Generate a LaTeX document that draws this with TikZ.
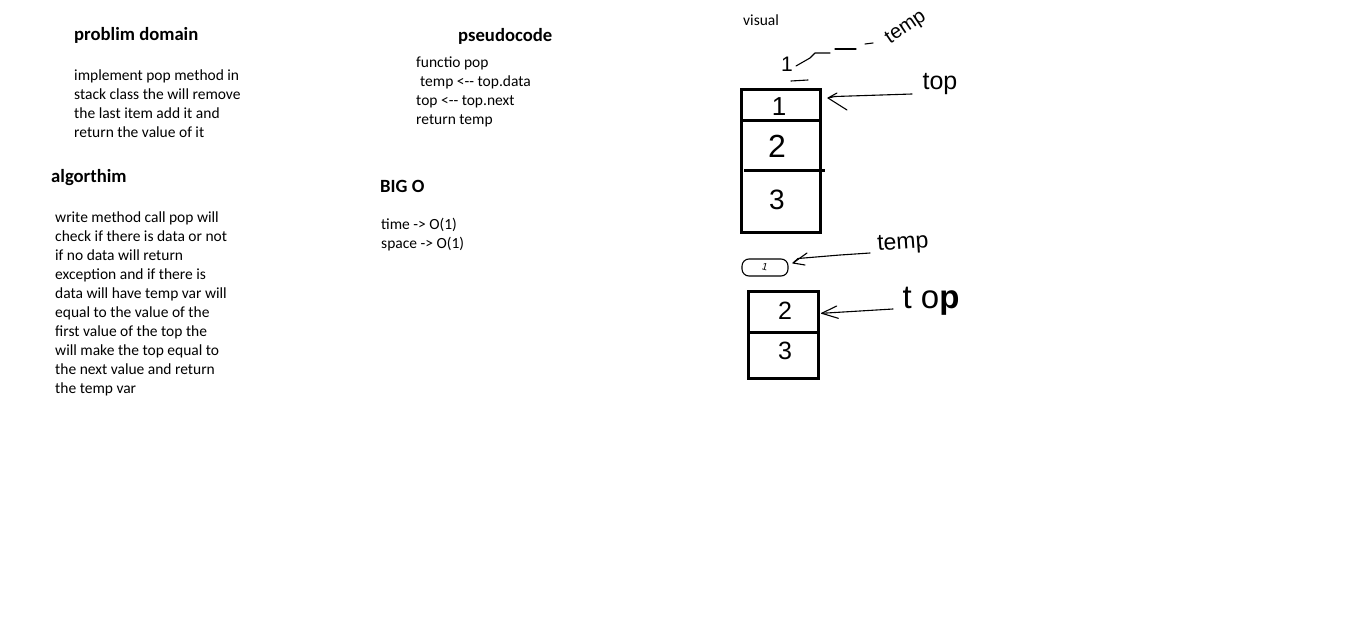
\documentclass[tikz,border=0pt]{standalone}
\usepackage{fontspec}
\setmainfont{Carlito}
\newfontfamily\handfont{Liberation Sans}
\begin{document}
\begin{tikzpicture}[x=1pt,y=-1pt,
  body/.style={anchor=north west, inner sep=0pt, align=left, font=\fontsize{15.5}{19}\selectfont},
  head/.style={anchor=base west, inner sep=0pt, font=\fontsize{18.67}{22}\selectfont\bfseries},
  stackbox/.style={line width=3pt},
  hand/.style={line width=1.1pt, line cap=round, line join=round},
  handtxt/.style={inner sep=0pt, font=\handfont\fontsize{#1}{#1}\selectfont},
  handtxt/.default=20
]
\useasboundingbox[fill=white] (0,0) rectangle (1359,618);

% ---- problem domain ----
\node[head] (pdhead) at (74,41) {problim domain};
\node[body] (pdbody) at (74,66.7) {\strut implement pop method in\\stack class the will remove\\the last item add it and\\return the value of it};

% ---- algorithm ----
\node[head] (alhead) at (51,182) {algorthim};
\node[body] (albody) at (55,209.2) {\strut write method call pop will\\check if there is data or not\\if no data will return\\exception and if there is\\data will have temp var will\\equal to the value of the\\first value of the top the\\will make the top equal to\\the next value and return\\the temp var};

% ---- pseudocode ----
\node[head] (pshead) at (458,42) {pseudocode};
\node[body] (psbody) at (416,53.7) {\strut functio pop\\\hspace*{4pt}temp <-{}- top.data\\top <-{}- top.next\\return temp};

% ---- big O ----
\node[head] (bohead) at (380,192) {BIG O};
\node[body] (bobody) at (381,215.7) {\strut time -> O(1)\\space -> O(1)};

% ---- visual ----
\node[anchor=base west, inner sep=0pt, font=\fontsize{15.5}{19}\selectfont] (vis) at (743,26) {visual};

% ===== upper stack =====
\draw[stackbox] (741,89) rectangle (820,232);
\draw[stackbox] (741,120) -- (820,120);
\draw[stackbox] (744,170) -- (825,170);
\node[handtxt=26] (u1) at (779,107) {1};
\node[handtxt=32] (u2) at (777,146) {2};
\node[handtxt=28] (u3) at (777,200) {3};

% popped value above the stack
\node[handtxt=21] (t1) at (787,64) {1};
\draw[hand] (791,81) -- (808,80);

% temp label (upper) and its broken arrow
\node[handtxt=20, rotate=34] (tempA) at (906,28) {temp};
\coordinate (tA0) at (873,43);
\coordinate (tA5) at (796,66);
\draw[hand] (tA0) -- (865,44);
\draw[hand] (856,49) -- (835,49);
\draw[hand] (830,53) -- (815,53) -- (810,58) -- (tA5);

% top label (upper) and arrow
\node[handtxt=25] (topA) at (940,84) {top};
\coordinate (tipA) at (828,98);
\draw[hand] (912,94) -- (835,96.5) -- (tipA) -- (837,93);
\draw[hand] (tipA) -- (847,110);

% ===== lower part =====
% temp value capsule
\draw[hand, rounded corners=7pt] (742,259) rectangle (788,276);
\node[handtxt=10, rotate=-15] (c1) at (765,267) {1};

% temp label (lower) and arrow
\node[handtxt=23, rotate=4] (tempB) at (903,244) {temp};
\coordinate (tipB) at (793,263);
\draw[hand] (870,253) -- (840,255) -- (798,258.5) -- (tipB);
\draw[hand] (807,253) -- (tipB) -- (805,265);

% lower stack
\draw[stackbox] (748.3,291.7) rectangle (818.3,378.3);
\draw[stackbox] (748.3,332.3) -- (819.5,332.3);
\node[handtxt=25] (l2) at (785,311) {2};
\node[handtxt=25] (l3) at (785,351) {3};

% top label (lower) and arrow
\node[handtxt=33] (topB) at (931,301) {t o\textbf{p}};
\coordinate (tipB2) at (821.7,313.3);
\draw[hand] (893,309) -- (tipB2);
\draw[hand] (836.7,306) -- (tipB2) -- (838.3,318.3);
\end{tikzpicture}
\end{document}
